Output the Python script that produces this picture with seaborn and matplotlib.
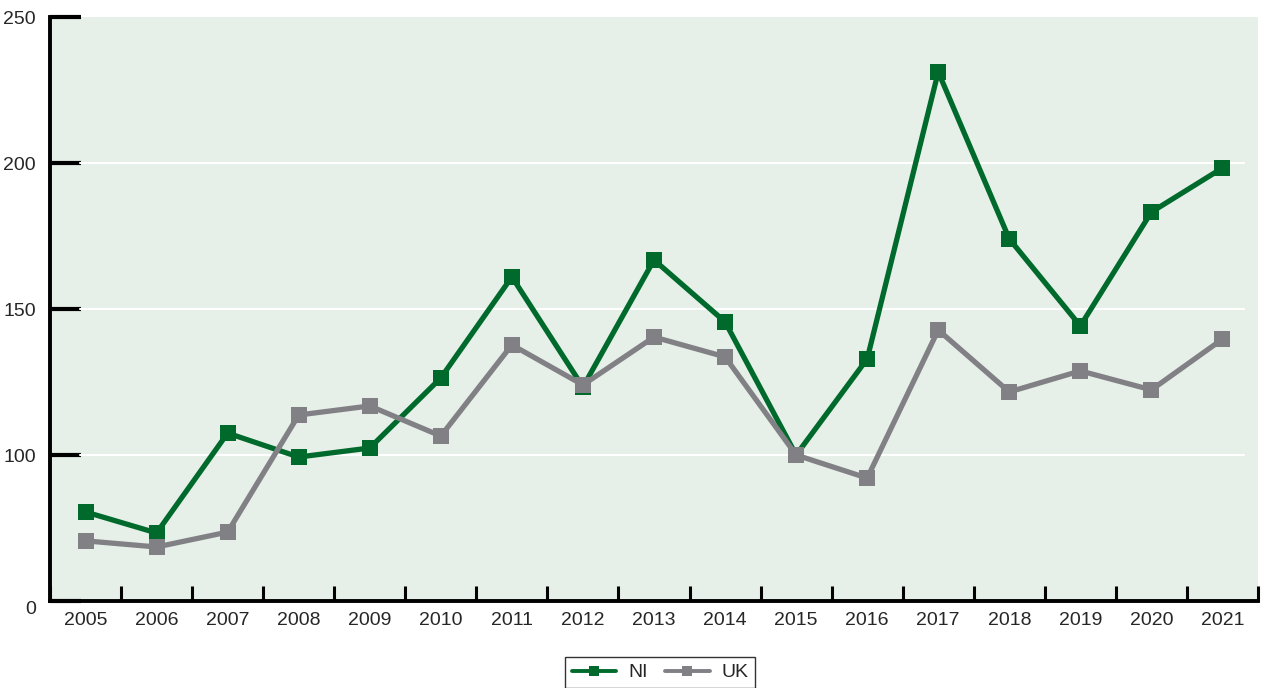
import matplotlib
matplotlib.use("Agg")
import matplotlib.pyplot as plt
import seaborn as sns
import pandas as pd
from matplotlib.ticker import FixedLocator

years = list(range(2005, 2022))
ni = [80.5, 73.3, 107.5, 99.3, 102.4, 126.4, 161.0, 123.3, 166.8, 145.6,
      100.0, 132.9, 231.2, 174.0, 144.2, 183.2, 198.3]
uk = [70.6, 68.5, 73.6, 113.7, 116.8, 106.5, 137.7, 124.0, 140.4, 133.6,
      100.0, 92.1, 142.8, 121.6, 128.8, 122.3, 139.7]
series_names = ["NI", "UK"]
ytick_values = [50, 100, 150, 200, 250]
ytick_labels = ["0", "100", "150", "200", "250"]

df = pd.DataFrame({
    "year": years * 2,
    "value": ni + uk,
    "series": [series_names[0]] * len(years) + [series_names[1]] * len(years),
})

sns.set_theme(style="white")
plt.rcParams["font.family"] = ["Liberation Sans", "DejaVu Sans"]

colors = {"NI": "#006a2c", "UK": "#818185"}

fig = plt.figure(figsize=(12.65, 6.88), dpi=100)
ax = fig.add_axes([50 / 1265, 1 - 601 / 688, 1208 / 1265, 584 / 688])
ax.set_facecolor("#e6f0e8")

sns.lineplot(data=df, x="year", y="value", hue="series", hue_order=series_names,
             palette=colors, style="series", markers={"NI": "s", "UK": "s"},
             dashes=False, linewidth=3.8, markersize=11.5, markeredgewidth=0,
             ax=ax, legend=False, zorder=3)

ax.set_xlim(2004.5, 2021.5)
ax.set_ylim(50, 250)

# white horizontal gridlines at the inner ticks
for v in ytick_values[1:-1]:
    ax.axhline(v, xmin=0.025, xmax=0.988, color="white", linewidth=1.5, zorder=1)

ax.set_yticks(ytick_values)
ax.set_yticklabels(ytick_labels)
ax.tick_params(axis="y", direction="in", length=22, width=3, color="black",
               labelsize=14, pad=10, left=True, right=False)

ax.set_xticks(years)
ax.set_xticklabels([str(y) for y in years])
ax.xaxis.set_minor_locator(FixedLocator([y - 0.5 for y in years] + [years[-1] + 0.5]))
ax.tick_params(axis="x", which="major", length=0, labelsize=14, pad=8,
               top=False)
ax.tick_params(axis="x", which="minor", direction="in", length=11, width=2.2,
               color="black", bottom=True, top=False)

for side in ["top", "right"]:
    ax.spines[side].set_visible(False)
for side in ["left", "bottom"]:
    ax.spines[side].set_color("black")
    ax.spines[side].set_linewidth(2.8)

ax.set_xlabel("")
ax.set_ylabel("")
for lbl in ax.get_yticklabels():
    if lbl.get_text() == "0":
        lbl.set_verticalalignment("top")

handles = [plt.Line2D([], [], color=colors[s], marker="s", linewidth=2.8,
                      markersize=7.5, markeredgewidth=0) for s in series_names]
fig.legend(handles, series_names, loc="upper center",
           bbox_to_anchor=(660 / 1265, 1 - 657 / 688), ncol=2, frameon=True,
           fancybox=False, edgecolor="black", fontsize=14, handlelength=2.3,
           handletextpad=0.6, columnspacing=0.9, borderpad=0.35,
           borderaxespad=0)

fig.savefig("out.png", dpi=100, facecolor="white")
